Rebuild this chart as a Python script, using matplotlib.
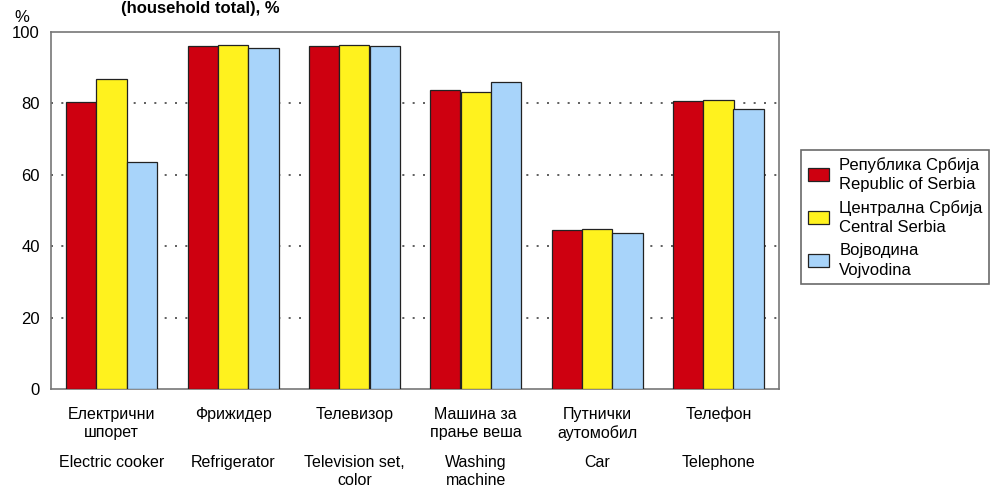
import numpy as np
import matplotlib
matplotlib.use("Agg")
import matplotlib.pyplot as plt
from matplotlib import font_manager

# data
labels_sr = ["Електрични\nшпорет", "Фрижидер", "Телевизор", "Машина за\nпрање веша", "Путнички\nаутомобил", "Телефон"]
labels_en = ["Electric cooker", "Refrigerator", "Television set,\ncolor", "Washing\nmachine", "Car", "Telephone"]
series_names = ["Република Србија\nRepublic of Serbia", "Централна Србија\nCentral Serbia", "Војводина\nVojvodina"]
serbia = [80.4, 96.2, 96.1, 83.8, 44.5, 80.6]
central = [86.9, 96.4, 96.4, 83.1, 44.8, 81.0]
vojvodina = [63.5, 95.5, 96.0, 86.0, 43.7, 78.4]
colors = ["#CE0010", "#FFF21E", "#A8D4FA"]

names = {f.name for f in font_manager.fontManager.ttflist}
narrow = "Liberation Sans Narrow" if "Liberation Sans Narrow" in names else "Liberation Sans"
plt.rcParams["font.family"] = ["Liberation Sans", "DejaVu Sans"]

fig = plt.figure(figsize=(10.02, 4.91), dpi=100)
ax = fig.add_axes([51 / 1002, 1 - 389 / 491, 728 / 1002, 357 / 491])

x = np.arange(len(labels_sr))
w = 0.25
for i, vals in enumerate([serbia, central, vojvodina]):
    ax.bar(x + (i - 1) * w, vals, w, color=colors[i], edgecolor="#222222",
           linewidth=0.9, label=series_names[i], zorder=3)

ax.set_xlim(-0.5, len(labels_sr) - 0.5)
ax.set_ylim(0, 100)
ax.set_yticks([0, 20, 40, 60, 80, 100])
ax.tick_params(axis="y", length=0, labelsize=12, pad=8)
ax.tick_params(axis="x", length=0)
ax.set_xticks([])
for y in [20, 40, 60, 80]:
    ax.axhline(y, color="#444444", linestyle=(0, (1.2, 5)), linewidth=1.2, zorder=1)
for s in ax.spines.values():
    s.set_color("#777777")
    s.set_linewidth(1.2)

# two-language category labels
for xi, sr, en in zip(x, labels_sr, labels_en):
    ax.text(xi, -5, sr, ha="center", va="top", fontsize=11.5, family=narrow,
            linespacing=1.25, transform=ax.transData, clip_on=False)
    ax.text(xi, -18.5, en, ha="center", va="top", fontsize=11.5, family=narrow,
            linespacing=1.25, transform=ax.transData, clip_on=False)

fig.text(14 / 1002, 1 - 17 / 491, "%", fontsize=12, ha="left", va="center")
fig.text(200 / 1002, 1 - 1 / 491, "(household total), %", fontsize=12,
         fontweight="bold", ha="center", va="top")

leg = fig.legend(loc="upper left", bbox_to_anchor=(801 / 1002, 1 - 150 / 491),
                 fontsize=12, frameon=True, fancybox=False, handlelength=1.3,
                 handleheight=0.8, handletextpad=0.6, labelspacing=0.45,
                 borderpad=0.4, borderaxespad=0)
for t in leg.get_texts():
    t.set_linespacing(1.4)
leg.get_frame().set_edgecolor("#444444")
leg.get_frame().set_linewidth(1.2)

fig.savefig("out.png", dpi=100)
